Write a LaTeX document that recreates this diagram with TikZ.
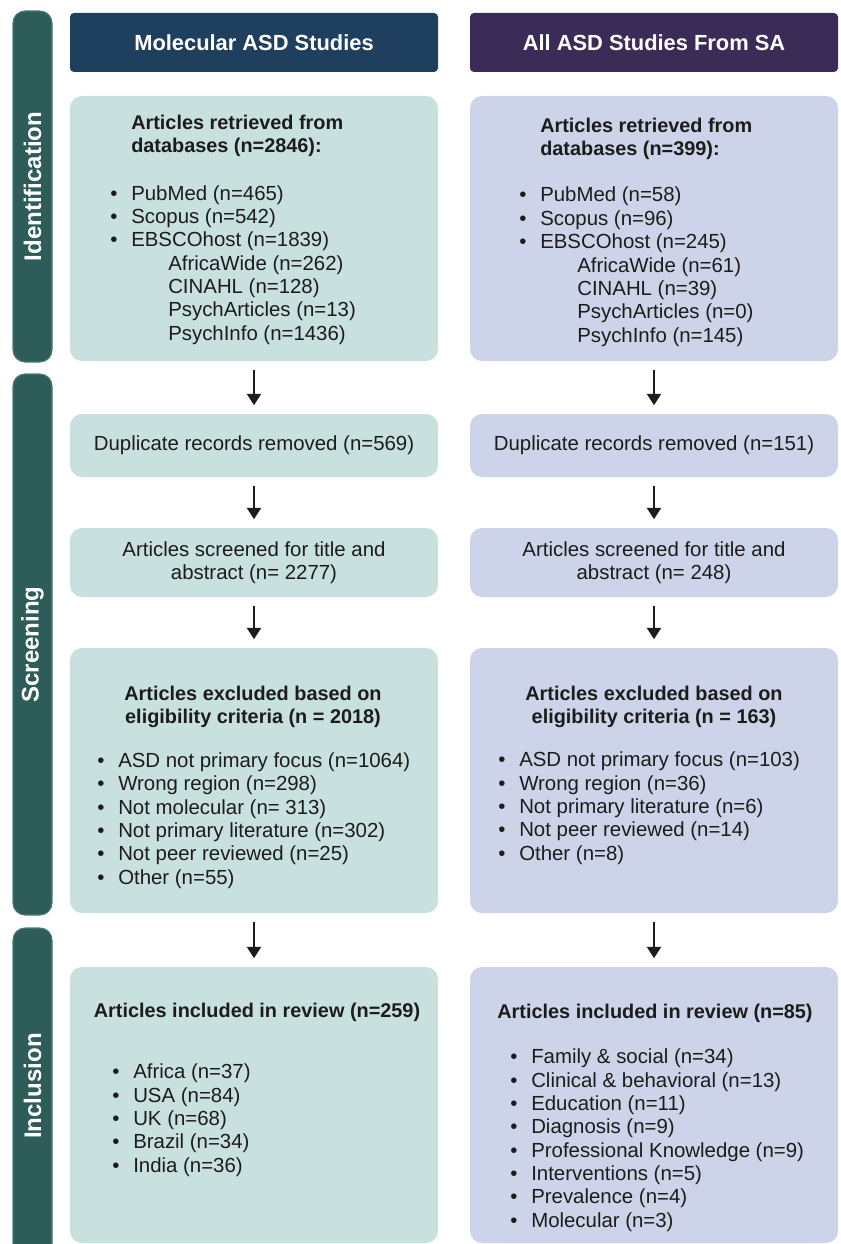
\documentclass[tikz,border=0pt]{standalone}
\usepackage{fontspec}
\setmainfont{Liberation Sans}
\usetikzlibrary{arrows.meta}
\definecolor{molhead}{HTML}{1E3F5E}
\definecolor{sahead}{HTML}{3A2C56}
\definecolor{molfill}{HTML}{C8E1DE}
\definecolor{safill}{HTML}{CDD4E9}
\definecolor{stagefill}{HTML}{2E5D59}
\definecolor{stageedge}{HTML}{4A7C78}
\definecolor{inkc}{HTML}{1C1C1C}
\newcommand{\txtfont}{\fontsize{15.3}{17.5}\selectfont}
\newcommand{\hdfont}{\fontsize{14.9}{17.5}\selectfont\bfseries}
\newcommand{\bl}{\makebox[15.75pt][l]{•}}
\newcommand{\subitm}{\hspace*{43.5pt}}
\begin{document}
\begin{tikzpicture}
    [x=0.75pt,y=-0.75pt,
    box/.style={rounded corners=9pt,minimum width=276pt,inner sep=0pt,align=center,text=inkc,font=\txtfont},
    hdr/.style={rounded corners=3pt,minimum width=276pt,minimum height=44.25pt,text=white,font=\fontsize{16.4}{19}\selectfont\bfseries},
    stage/.style={rounded corners=9pt,fill=stagefill,draw=stageedge,line width=0.8pt,minimum width=29.25pt,inner sep=0pt},
    stagelbl/.style={rotate=90,text=white,inner sep=0pt,font=\fontsize{18}{20}\selectfont\bfseries},
    heading/.style={inner sep=0pt,align=left,text=inkc,font=\hdfont},
    list/.style={inner sep=0pt,align=left,text=inkc,font=\txtfont},
    flow/.style={draw=inkc,line width=1.5pt,-{Triangle[width=10.5pt,length=8.5pt]},shorten <=6.4pt,shorten >=6.4pt}]
    \useasboundingbox (0,0) rectangle (840,1244);
    \clip (0,0) rectangle (840,1244);

    \node[stage,minimum height=263.25pt] (ident) at (32.5,186.5) {};
    \node[stage,minimum height=405.75pt] (screen) at (32.5,644.5) {};
    \node[stage,minimum height=250.5pt] (incl) at (32.5,1095) {};
    \node[stagelbl] (identlbl) at (32.5,186.5) {Identification};
    \node[stagelbl] (screenlbl) at (32.5,644.5) {Screening};
    \node[stagelbl] (incllbl) at (32.5,1086) {Inclusion};

    \node[hdr,fill=molhead] (hmol) at (254,42.5) {Molecular ASD Studies};
    \node[hdr,fill=sahead] (hsa) at (654,42.5) {All ASD Studies From SA};

    \node[box,fill=molfill,minimum height=198.75pt] (retmol) at (254,228.5) {};
    \node[box,fill=safill,minimum height=198.75pt] (retsa) at (654,228.5) {};
    \node[box,fill=molfill,minimum height=47.25pt] (dupmol) at (254,445.5) {Duplicate records removed (n=569)};
    \node[box,fill=safill,minimum height=47.25pt] (dupsa) at (654,445.5) {Duplicate records removed (n=151)};
    \node[box,fill=molfill,minimum height=51.75pt] (scrmol) at (254,562.5) {Articles screened for title and\\abstract (n= 2277)};
    \node[box,fill=safill,minimum height=51.75pt] (scrsa) at (654,562.5) {Articles screened for title and\\abstract (n= 248)};
    \node[box,fill=molfill,minimum height=198.75pt] (excmol) at (254,780.5) {};
    \node[box,fill=safill,minimum height=198.75pt] (excsa) at (654,780.5) {};
    \node[box,fill=molfill,minimum height=207pt] (incmol) at (254,1105) {};
    \node[box,fill=safill,minimum height=207pt] (incsa) at (654,1105) {};

    \node[heading,anchor=base west] (retmolhd) at (131,153) {Articles retrieved from\\databases (n=2846):};
    \node[list,anchor=base west] (retmollst) at (110,340) {\bl PubMed (n=465)\\ \bl Scopus (n=542)\\ \bl EBSCOhost (n=1839)\\ \subitm AfricaWide (n=262)\\ \subitm CINAHL (n=128)\\ \subitm PsychArticles (n=13)\\ \subitm PsychInfo (n=1436)};
    \node[heading,anchor=base west] (retsahd) at (540,155.5) {Articles retrieved from\\databases (n=399):};
    \node[list,anchor=base west] (retsalst) at (519,342) {\bl PubMed (n=58)\\ \bl Scopus (n=96)\\ \bl EBSCOhost (n=245)\\ \subitm AfricaWide (n=61)\\ \subitm CINAHL (n=39)\\ \subitm PsychArticles (n=0)\\ \subitm PsychInfo (n=145)};

    \node[heading,align=center,anchor=base] (excmolhd) at (253,723.5) {Articles excluded based on\\eligibility criteria (n = 2018)};
    \node[list,anchor=base west] (excmollst) at (97,884) {\bl ASD not primary focus (n=1064)\\ \bl Wrong region (n=298)\\ \bl Not molecular (n= 313)\\ \bl Not primary literature (n=302)\\ \bl Not peer reviewed (n=25)\\ \bl Other (n=55)};
    \node[heading,align=center,anchor=base] (excsahd) at (654,723.5) {Articles excluded based on\\eligibility criteria (n = 163)};
    \node[list,anchor=base west] (excsalst) at (498,860) {\bl ASD not primary focus (n=103)\\ \bl Wrong region (n=36)\\ \bl Not primary literature (n=6)\\ \bl Not peer reviewed (n=14)\\ \bl Other (n=8)};

    \node[heading,anchor=base] (incmolhd) at (257,1017) {Articles included in review (n=259)};
    \node[list,anchor=base west] (incmollst) at (112,1172) {\bl Africa (n=37)\\ \bl USA (n=84)\\ \bl UK (n=68)\\ \bl Brazil (n=34)\\ \bl India (n=36)};
    \node[heading,anchor=base] (incsahd) at (655,1018) {Articles included in review (n=85)};
    \node[list,anchor=base west] (incsalst) at (510,1227) {\bl Family \& social (n=34)\\ \bl Clinical \& behavioral (n=13)\\ \bl Education (n=11)\\ \bl Diagnosis (n=9)\\ \bl Professional Knowledge (n=9)\\ \bl Interventions (n=5)\\ \bl Prevalence (n=4)\\ \bl Molecular (n=3)};

    \foreach \c in {mol,sa}
    {
        \draw[flow] (ret\c) -- (dup\c);
        \draw[flow] (dup\c) -- (scr\c);
        \draw[flow] (scr\c) -- (exc\c);
        \draw[flow] (exc\c) -- (inc\c);
    }
\end{tikzpicture}
\end{document}
